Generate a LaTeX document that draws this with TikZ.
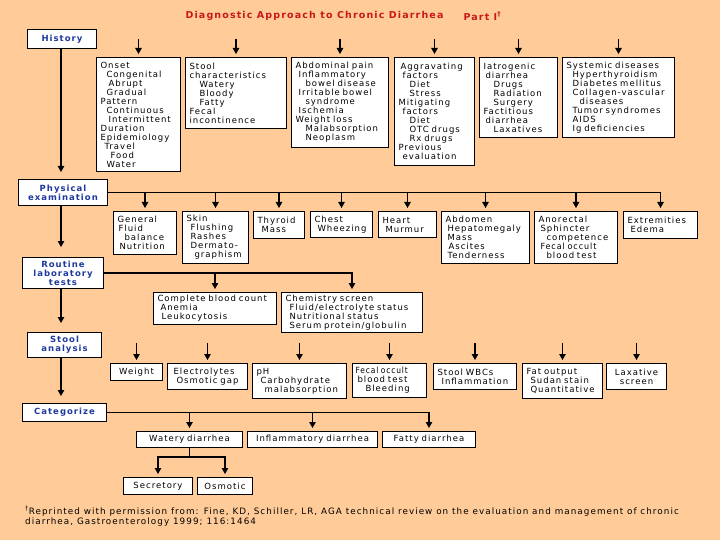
\documentclass[tikz,border=0pt]{standalone}
\usepackage{fontspec}
\usepackage{graphicx}
\setmainfont{DejaVu Sans}[LetterSpace=12]
\usetikzlibrary{arrows.meta}
\definecolor{bgpeach}{HTML}{FFCC99}
\definecolor{titlered}{HTML}{C81818}
\definecolor{headblue}{HTML}{1F3A9E}
\hyphenpenalty=10000
\exhyphenpenalty=10000
\newcommand{\myind}[1]{\hspace*{#1pt}}
\newcommand{\nar}[2]{\scalebox{#1}[1]{#2}}
\tikzset{
  box/.style={draw=black, fill=white, line width=1pt, anchor=north west, align=left,
    inner xsep=4pt, inner ysep=2pt, font=\fontsize{8.5}{9}\selectfont},
  cbox/.style={box, align=center},
  hbox/.style={box, align=center, text=headblue, font=\fontsize{8.5}{9}\selectfont\bfseries},
  arr/.style={-{Triangle[width=6.5pt,length=6pt]}, line width=1.1pt, shorten >=3pt},
  link/.style={line width=1.1pt},
}
\begin{document}
\begin{tikzpicture}[x=1pt,y=-1pt]
\useasboundingbox (0,0) rectangle (720,540);
\fill[bgpeach] (0,0) rectangle (720,540);

% title
\node[anchor=west, text=titlered, font=\fontsize{9.5}{11}\selectfont\bfseries] (title) at (182,16) {Diagnostic Approach to Chronic Diarrhea};
\node[anchor=west, text=titlered, font=\fontsize{9.5}{11}\selectfont\bfseries] (part) at (460,16) {Part I\textsuperscript{†}};

% left column headers
\node[hbox, minimum width=69pt, minimum height=19pt, text width=61pt] (history) at (27,29) {History};
\node[hbox, minimum width=89pt, minimum height=26pt, text width=81pt] (pe) at (18,179) {Physical\\examination};
\node[hbox, minimum width=81pt, minimum height=31pt, text width=73pt] (routine) at (22,257) {Routine\\laboratory\\tests};
\node[hbox, minimum width=74pt, minimum height=25pt, text width=66pt] (stoolan) at (27,332) {Stool\\analysis};
\node[hbox, minimum width=84pt, minimum height=18pt, text width=76pt] (categ) at (22,403) {Categorize};

\coordinate (spine) at (61,0);
\coordinate (toparr) at (0,39);
\coordinate (stoolarr) at (0,343);
\coordinate (wj) at (0,457);

% history row
\node[box, minimum width=84pt, minimum height=114pt, text width=76pt] (onset) at (96,57)
 {Onset\\\myind{6}Congenital\\\myind{8}Abrupt\\\myind{6}Gradual\\Pattern\\\myind{6}Continuous\\\myind{8}Intermittent\\Duration\\Epidemiology\\\myind{4}Travel\\\myind{10}Food\\\myind{6}Water};
\node[box, minimum width=101pt, minimum height=71pt, text width=93pt] (stoolch) at (185,57)
 {Stool\\characteristics\\\myind{10}Watery\\\myind{10}Bloody\\\myind{10}Fatty\\Fecal\\incontinence};
\node[box, minimum width=97pt, minimum height=90pt, text width=89pt] (abd) at (291,57)
 {Abdominal pain\\\myind{3}Inflammatory\\\myind{10}bowel disease\\\myind{3}Irritable bowel\\\myind{10}syndrome\\\myind{3}Ischemia\\Weight loss\\\myind{10}Malabsorption\\\myind{10}Neoplasm};
\node[box, minimum width=80pt, minimum height=108pt, text width=72pt] (aggr) at (394,57)
 {\myind{2}Aggravating\\\myind{4}factors\\\myind{11}Diet\\\myind{11}Stress\\Mitigating\\\myind{4}factors\\\myind{11}Diet\\\myind{11}OTC drugs\\\myind{11}Rx drugs\\Previous\\\myind{4}evaluation};
\node[box, minimum width=78pt, minimum height=80pt, text width=70pt] (iatro) at (479,57)
 {Iatrogenic\\\myind{2}diarrhea\\\myind{10}Drugs\\\myind{10}Radiation\\\myind{10}Surgery\\Factitious\\\myind{2}diarrhea\\\myind{10}Laxatives};
\node[box, minimum width=112pt, minimum height=80pt, text width=104pt] (syst) at (562,57)
 {Systemic diseases\\\myind{6}Hyperthyroidism\\\myind{6}Diabetes mellitus\\\myind{6}Collagen-vascular\\\myind{13}diseases\\\myind{6}Tumor syndromes\\\myind{6}AIDS\\\myind{6}Ig deficiencies};

% physical examination row
\node[box, minimum width=63pt, minimum height=43pt, text width=55pt] (general) at (113,211)
 {General\\\myind{1}Fluid\\\myind{7}balance\\\myind{2}Nutrition};
\node[box, minimum width=66pt, minimum height=52pt, text width=58pt] (skin) at (182,211)
 {Skin\\\myind{4}Flushing\\\myind{4}Rashes\\\myind{4}Dermato-\\\myind{8}graphism};
\node[box, minimum width=51pt, minimum height=27pt, text width=43pt] (thyroid) at (253,211)
 {Thyroid\\\myind{4}Mass};
\node[box, minimum width=62pt, minimum height=26pt, text width=54pt] (chest) at (310,211)
 {Chest\\\myind{3}Wheezing};
\node[box, minimum width=58pt, minimum height=26pt, text width=50pt] (heart) at (378,211)
 {Heart\\\myind{3}Murmur};
\node[box, minimum width=88pt, minimum height=52pt, text width=80pt] (abdomen) at (441,211)
 {Abdomen\\\myind{2}Hepatomegaly\\\myind{2}Mass\\\myind{3}Ascites\\\myind{2}Tenderness};
\node[box, minimum width=83pt, minimum height=52pt, text width=75pt] (anorect) at (534,211)
 {Anorectal\\\myind{2}Sphincter\\\myind{8}competence\\\myind{2}\nar{0.94}{Fecal occult}\\\myind{8}blood test};
\node[box, minimum width=74pt, minimum height=27pt, text width=66pt] (extrem) at (623,211)
 {Extremities\\\myind{3}Edema};

% routine lab row
\node[box, minimum width=123pt, minimum height=32pt, text width=115pt] (cbc) at (153,292)
 {Complete blood count\\\myind{3}Anemia\\\myind{4}Leukocytosis};
\node[box, minimum width=141pt, minimum height=40pt, text width=133pt] (chem) at (281,292)
 {Chemistry screen\\\myind{4}Fluid/electrolyte status\\\myind{4}Nutritional status\\\myind{4}Serum protein/globulin};

% stool analysis row
\node[cbox, minimum width=52pt, minimum height=17pt, text width=44pt] (weight) at (110,363) {Weight};
\node[box, minimum width=80pt, minimum height=26pt, text width=72pt] (elec) at (167,363)
 {\myind{2}Electrolytes\\\myind{5}Osmotic gap};
\node[box, minimum width=94pt, minimum height=35pt, text width=86pt] (ph) at (252,363)
 {pH\\\myind{4}Carbohydrate\\\myind{8}malabsorption};
\node[box, minimum width=74pt, minimum height=34pt, text width=68pt, inner xsep=3pt] (fobt) at (352,363)
 {\nar{0.88}{Fecal occult}\\\myind{2}blood test\\\myind{10}Bleeding};
\node[box, minimum width=83pt, minimum height=26pt, text width=75pt] (wbc) at (433,363)
 {Stool WBCs\\\myind{4}Inflammation};
\node[box, minimum width=80pt, minimum height=35pt, text width=72pt] (fat) at (522,363)
 {Fat output\\\myind{4}Sudan stain\\\myind{4}Quantitative};
\node[cbox, minimum width=60pt, minimum height=26pt, text width=52pt] (lax) at (606,363)
 {Laxative\\screen};

% categorize row
\node[cbox, minimum width=106pt, minimum height=16pt, text width=98pt] (watery) at (136,431) {Watery diarrhea};
\node[cbox, minimum width=130pt, minimum height=16pt, text width=122pt] (inflam) at (247,431) {Inflammatory diarrhea};
\node[cbox, minimum width=93pt, minimum height=16pt, text width=85pt] (fatty) at (382,431) {Fatty diarrhea};
\node[cbox, minimum width=69pt, minimum height=17pt, text width=61pt] (secret) at (123,477) {Secretory};
\node[cbox, minimum width=55pt, minimum height=17pt, text width=47pt] (osmot) at (197,477) {Osmotic};

% footnote
\node[anchor=north west, align=left, inner sep=0pt, font=\fontsize{8.8}{10}\selectfont] (foot) at (25,506)
 {\textsuperscript{†}Reprinted with permission from: Fine, KD, Schiller, LR, AGA technical review on the evaluation and management of chronic\\diarrhea, Gastroenterology 1999; 116:1464};

% spine
\draw[arr, shorten >=7pt] (history.south -| spine) -- (pe.north -| spine);
\draw[arr, shorten >=10pt] (pe.south -| spine) -- (routine.north -| spine);
\draw[arr, shorten >=9pt] (routine.south -| spine) -- (stoolan.north -| spine);
\draw[arr, shorten >=7pt] (stoolan.south -| spine) -- (categ.north -| spine);

% history arrows
\foreach \n in {onset,stoolch,abd,aggr,iatro,syst}
  \draw[arr] (\n.north |- toparr) -- (\n.north);

% physical exam connectors
\foreach \n in {general,skin,thyroid,chest,heart,abdomen,anorect,extrem}
  \draw[arr] (pe.east) -| (\n.north);

% routine lab connectors
\foreach \n in {cbc,chem}
  \draw[arr] (routine.east) -| (\n.north);

% stool analysis arrows
\foreach \n in {weight,elec,ph,fobt,wbc,fat,lax}
  \draw[arr] (\n.north |- stoolarr) -- (\n.north);

% categorize connectors
\foreach \n in {watery,inflam,fatty}
  \draw[arr] (categ.east) -| (\n.north);

% watery split
\draw[link] (watery.south) -- (watery.south |- wj);
\draw[arr] (watery.south |- wj) -| (secret.north);
\draw[arr] (watery.south |- wj) -| (osmot.north);
\end{tikzpicture}
\end{document}
